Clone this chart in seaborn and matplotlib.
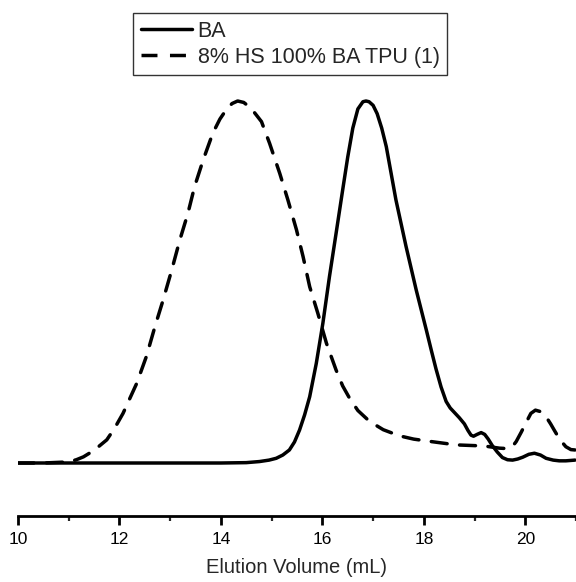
import numpy as np
import pandas as pd
import matplotlib
matplotlib.use("Agg")
import matplotlib.pyplot as plt
from matplotlib.lines import Line2D
import seaborn as sns

# ---- data ----
ba_x = [10.0, 11.0, 12.0, 13.0, 14.0, 14.5, 14.76, 14.95, 15.09, 15.22, 15.35, 15.45,
        15.55, 15.65, 15.75, 15.88, 16.01, 16.14, 16.27, 16.40, 16.50, 16.60, 16.70,
        16.80, 16.86, 16.92, 17.00, 17.08, 17.17, 17.26, 17.45, 17.65, 17.85, 18.05,
        18.15, 18.24, 18.34, 18.44, 18.52, 18.60, 18.70, 18.80, 18.87, 18.93, 18.98,
        19.05, 19.13, 19.20, 19.27, 19.35, 19.45, 19.55, 19.65, 19.75, 19.85, 19.95,
        20.07, 20.18, 20.30, 20.41, 20.55, 20.67, 20.80, 20.98]
ba_y = [0, 0, 0, 0, 0, 0.001, 0.004, 0.008, 0.013, 0.022, 0.036, 0.058,
        0.091, 0.133, 0.183, 0.275, 0.386, 0.515, 0.634, 0.754, 0.845, 0.925, 0.978,
        0.998, 1.0, 0.998, 0.988, 0.965, 0.925, 0.874, 0.727, 0.598, 0.478, 0.367,
        0.31, 0.26, 0.21, 0.17, 0.152, 0.14, 0.125, 0.108, 0.09, 0.077, 0.074,
        0.079, 0.084, 0.079, 0.066, 0.048, 0.03, 0.015, 0.009, 0.008, 0.011, 0.016,
        0.024, 0.027, 0.022, 0.013, 0.008, 0.006, 0.006, 0.008]

tpu_x = [10.0, 10.5, 11.0, 11.15, 11.29, 11.5, 11.75, 11.9, 12.07, 12.34, 12.53, 12.70,
         12.86, 13.03, 13.19, 13.35, 13.48, 13.65, 13.84, 13.98, 14.11, 14.22, 14.33,
         14.45, 14.55, 14.65, 14.80, 14.96, 15.16, 15.32, 15.49, 15.62, 15.75, 15.91,
         16.08, 16.27, 16.40, 16.54, 16.70, 16.93, 17.20, 17.52, 17.80, 18.05, 18.64,
         19.19, 19.49, 19.62, 19.70, 19.76, 19.82, 19.92, 20.01, 20.11, 20.20, 20.30,
         20.40, 20.50, 20.57, 20.68, 20.80, 20.90, 20.98]
tpu_y = [0, 0, 0.003, 0.009, 0.017, 0.035, 0.064, 0.095, 0.137, 0.22, 0.294, 0.377,
         0.45, 0.533, 0.616, 0.69, 0.763, 0.837, 0.911, 0.950, 0.977, 0.993, 1.0,
         0.996, 0.985, 0.97, 0.943, 0.883, 0.80, 0.727, 0.644, 0.57, 0.487, 0.414,
         0.331, 0.257, 0.213, 0.178, 0.145, 0.115, 0.092, 0.075, 0.066, 0.061, 0.05,
         0.047, 0.041, 0.040, 0.042, 0.048, 0.059, 0.085, 0.11, 0.137, 0.146, 0.142,
         0.13, 0.108, 0.091, 0.065, 0.045, 0.037, 0.036]

labels = ["BA", "8% HS 100% BA TPU (1)"]
x_ticks = [10, 12, 14, 16, 18, 20]
x_minor = [11, 13, 15, 17, 19, 21]
x_label = "Elution Volume (mL)"

df = pd.concat([
    pd.DataFrame({"x": ba_x, "y": ba_y, "series": labels[0]}),
    pd.DataFrame({"x": tpu_x, "y": tpu_y, "series": labels[1]}),
], ignore_index=True)

sns.set_style("white")
plt.rcParams["font.family"] = ["Liberation Sans", "DejaVu Sans"]

fig = plt.figure(figsize=(5.76, 5.82), dpi=100)
ax = fig.add_axes([18 / 576, 66 / 582, 1 - 18 / 576, (516 - 90) / 582])

DASH = (4.6, 3.6)
sns.lineplot(data=df, x="x", y="y", hue="series", style="series",
             palette={labels[0]: "black", labels[1]: "black"},
             dashes={labels[0]: "", labels[1]: DASH},
             linewidth=2.5, sort=False, estimator=None, ax=ax, legend=False)
for ln in ax.get_lines():
    ln.set_solid_joinstyle("round")
    ln.set_dash_capstyle("round")

ax.set_xlim(10, 20.98)
ax.set_ylim((463 - 516) / 362, (463 - 90) / 362)
ax.set_xticks(x_ticks)
ax.set_xticks(x_minor, minor=True)
ax.set_xticklabels([str(t) for t in x_ticks], fontsize=12.5)
ax.set_yticks([])
ax.set_ylabel("")
ax.set_xlabel(x_label, fontsize=14.5, labelpad=8)
for s in ["top", "right", "left"]:
    ax.spines[s].set_visible(False)
ax.spines["bottom"].set_linewidth(2.0)
ax.spines["bottom"].set_color("black")
ax.tick_params(axis="x", which="major", direction="out", length=6.5, width=2.0,
               pad=5, colors="black", bottom=True)
ax.tick_params(axis="x", which="minor", direction="out", length=3.5, width=1.6,
               bottom=True)

handles = [Line2D([], [], color="black", lw=2.5),
           Line2D([], [], color="black", lw=2.5, dashes=DASH)]
leg = fig.legend(handles, labels, loc="upper left",
                 bbox_to_anchor=(133 / 576, 1 - 13 / 582),
                 borderaxespad=0, fontsize=15.5, frameon=True, fancybox=False,
                 handlelength=2.4, handletextpad=0.25, labelspacing=0.25,
                 borderpad=0.35)
leg.get_frame().set_edgecolor("black")
leg.get_frame().set_linewidth(1.0)

fig.savefig("out.png", dpi=100)
